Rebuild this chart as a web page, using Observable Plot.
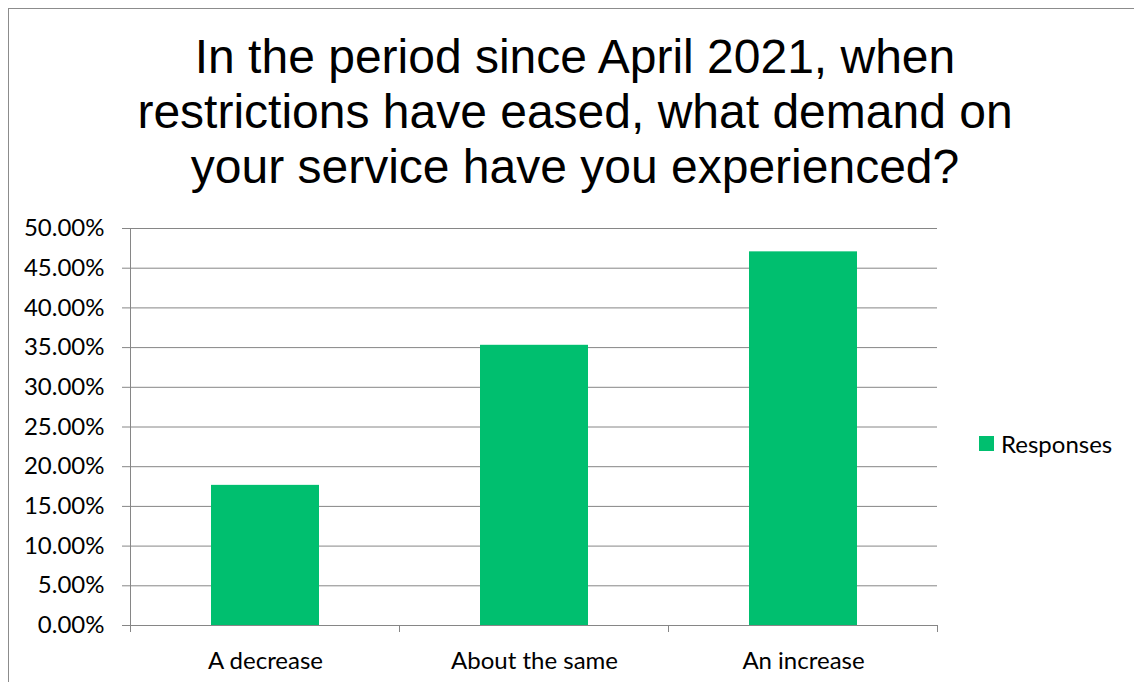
<!DOCTYPE html>
<html>
<head>
<meta charset="utf-8">
<script src="https://cdn.jsdelivr.net/npm/d3@7"></script>
<script src="https://cdn.jsdelivr.net/npm/@observablehq/plot@0.6"></script>
<style>
  html, body { margin: 0; padding: 0; background: #fff; }
  #wrap { position: relative; width: 1134px; height: 682px; overflow: hidden; }
  #frame { position: absolute; left: 8px; top: 8px; width: 1200px; height: 800px; border-left: 1px solid #8c8c8c; border-top: 1px solid #8c8c8c; box-sizing: border-box; }
  #title { position: absolute; left: 0; width: 1150px; top: 29px; text-align: center; font-family: "Liberation Sans", Arial, sans-serif; font-size: 48px; line-height: 55px; color: #000; }
  #legend { position: absolute; left: 979px; top: 429px; font-family: Lato, "Noto Sans", sans-serif; font-size: 24px; color: #000; display: flex; align-items: center; }
  #legend .sw { width: 15px; height: 15px; background: #00BF6F; margin-right: 7px; }
  #chart { position: absolute; left: 0; top: 0; }
</style>
</head>
<body>
<div id="wrap">
  <div id="frame"></div>
  <div id="chart"></div>
  <div id="title">In the period since April 2021, when<br>restrictions have eased, what demand on<br>your service have you experienced?</div>
  <div id="legend"><div class="sw"></div><span id="legendLabel"></span></div>
</div>
<script>
const categories = ["A decrease", "About the same", "An increase"];
const responses = [0.1765, 0.3529, 0.4706];
const seriesName = "Responses";
const yTicks = [0, 0.05, 0.10, 0.15, 0.20, 0.25, 0.30, 0.35, 0.40, 0.45, 0.50];

const data = categories.map((c, i) => ({category: c, value: responses[i]}));
document.getElementById("legendLabel").textContent = seriesName;

const gray = "#868686";
const fontFam = "Lato, 'Noto Sans', sans-serif";

function axisLines(index, scales, values, dims) {
  const g = d3.create("svg:g");
  const x0 = dims.marginLeft, x1 = dims.width - dims.marginRight;
  const yb = dims.height - dims.marginBottom, yt = dims.marginTop;
  const n = categories.length;
  g.append("line").attr("x1", x0 + 0.5).attr("x2", x0 + 0.5).attr("y1", yt).attr("y2", yb)
    .attr("stroke", gray);
  for (let i = 0; i <= n; i++) {
    const x = Math.round(x0 + (x1 - x0) * i / n) + 0.5;
    g.append("line").attr("x1", x).attr("x2", x).attr("y1", yb).attr("y2", yb + 7)
      .attr("stroke", gray);
  }
  return g.node();
}

const chart = Plot.plot({
  width: 1134,
  height: 682,
  marginLeft: 130,
  marginRight: 197,
  marginTop: 228,
  marginBottom: 57,
  style: {fontFamily: fontFam, fontSize: "24px", color: "#000", background: "transparent", overflow: "visible"},
  x: {domain: categories, paddingInner: 0.6, paddingOuter: 0.3, label: null},
  y: {domain: [0, 0.5], label: null},
  marks: [
    Plot.gridY(yTicks, {stroke: gray, strokeOpacity: 1}),
    Plot.barY(data, {x: "category", y: "value", fill: "#00BF6F"}),
    Plot.ruleY([0], {stroke: gray}),
    Plot.axisY(yTicks, {tickFormat: d3.format(".2%"), tickSize: 8, tickPadding: 18, stroke: gray, fill: "#000", fontSize: 24, label: null}),
    Plot.axisX({tickSize: 0, tickPadding: 26, fontSize: 24, label: null, fill: "#000"}),
    axisLines
  ]
});
document.getElementById("chart").appendChild(chart);
</script>
</body>
</html>
